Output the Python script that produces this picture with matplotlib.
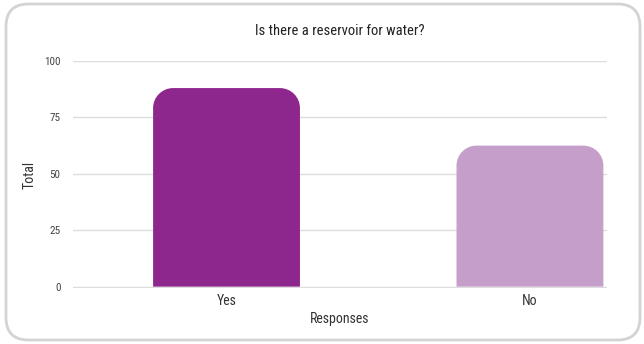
import matplotlib.pyplot as plt
from matplotlib.patches import FancyBboxPatch, PathPatch
from matplotlib.path import Path
from matplotlib import font_manager

categories = ['Yes', 'No']
totals = [88, 62.5]
bar_colors = ['#8e278d', '#c59fc9']
y_ticks = [0, 25, 50, 75, 100]

installed = {f.name for f in font_manager.fontManager.ttflist}
narrow = [f for f in ['Roboto Condensed', 'Liberation Sans Narrow', 'Open Sans Condensed'] if f in installed]
plt.rcParams['font.family'] = narrow + ['DejaVu Sans']
text_color = '#333333'

fig = plt.figure(figsize=(6.44, 3.44), dpi=100)
ax = fig.add_axes([73 / 644, 56 / 344, 534 / 644, 227 / 344])

xs = list(range(len(categories)))
bar_w = 0.484
x_lo, x_hi = -0.506, 1.254
y_lo, y_hi = -0.6, 100
ax.set_xlim(x_lo, x_hi)
ax.set_ylim(y_lo, y_hi)

# corner radius of 20px, converted into data units on each axis
px_x = 534 / (x_hi - x_lo)
px_y = 227 / (y_hi - y_lo)
rx, ry = 20 / px_x, 20 / px_y
k = 0.5523  # cubic bezier constant for a quarter circle


def top_rounded_bar(x0, x1, top):
    verts = [(x0, 0), (x0, top - ry),
             (x0, top - ry + k * ry), (x0 + rx - k * rx, top), (x0 + rx, top),
             (x1 - rx, top),
             (x1 - rx + k * rx, top), (x1, top - ry + k * ry), (x1, top - ry),
             (x1, 0), (x0, 0)]
    codes = [Path.MOVETO, Path.LINETO,
             Path.CURVE4, Path.CURVE4, Path.CURVE4,
             Path.LINETO,
             Path.CURVE4, Path.CURVE4, Path.CURVE4,
             Path.LINETO, Path.CLOSEPOLY]
    return Path(verts, codes)


for x, v, c in zip(xs, totals, bar_colors):
    ax.add_patch(PathPatch(top_rounded_bar(x - bar_w / 2, x + bar_w / 2, v),
                           facecolor=c, edgecolor='none', zorder=3))

ax.set_yticks(y_ticks)
ax.set_yticklabels([str(t) for t in y_ticks])
ax.set_xticks(xs)
ax.set_xticklabels(categories)
ax.grid(axis='y', color='#dcdcdc', linewidth=1, zorder=0)
ax.set_axisbelow(True)
for s in ax.spines.values():
    s.set_visible(False)
ax.tick_params(axis='y', length=0, pad=9, labelsize=8, labelcolor='#444444')
ax.tick_params(axis='x', length=0, pad=4, labelsize=10, labelcolor=text_color)

ax.set_ylabel('Total', fontsize=10, color=text_color, labelpad=5)
ax.set_xlabel('Responses', fontsize=10, color=text_color, labelpad=3)
ax.set_title('Is there a reservoir for water?', fontsize=10.5, color='#222222', pad=19)

# rounded frame around the whole chart
frame = FancyBboxPatch((6 / 644, 4 / 344), 634 / 644, 336 / 344,
                       boxstyle='round,pad=0,rounding_size=0.035',
                       mutation_aspect=644 / 344,
                       transform=fig.transFigure, facecolor='none',
                       edgecolor='#d3d3d3', linewidth=2)
fig.patches.append(frame)

fig.savefig('out.png', dpi=100)
